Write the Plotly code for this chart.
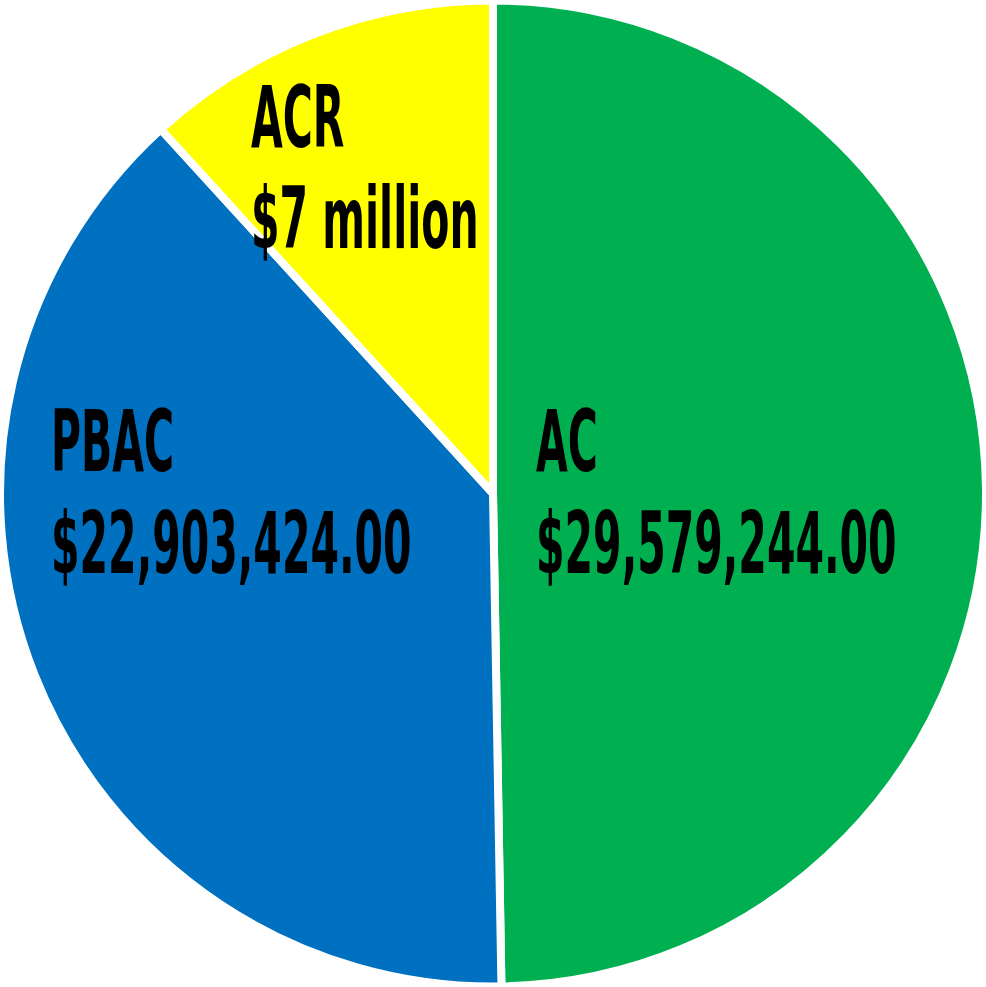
import plotly.graph_objects as go

labels = ["AC", "PBAC", "ACR"]
values = [29579244.00, 22903424.00, 7000000.00]
value_texts = ["$29,579,244.00", "$22,903,424.00", "$7 million"]
colors = ["#00B050", "#0070C0", "#FFFF00"]

fig = go.Figure(go.Pie(
    labels=labels,
    values=values,
    sort=False,
    direction="clockwise",
    rotation=0,
    marker=dict(colors=colors, line=dict(color="white", width=8)),
    textinfo="none",
    hoverinfo="label+value",
    showlegend=False,
))

FONT = dict(family="DejaVu Sans Condensed, DejaVu Sans, sans-serif",
            size=86, color="black", weight="bold")

# label anchors in pixels: (left x, centre y of line 1, centre y of line 2)
pos = {
    "AC": (534, 441, 543),
    "PBAC": (49, 441, 543),
    "ACR": (249, 117, 218),
}
W, H = 986, 987
annotations = []
for lab, vt in zip(labels, value_texts):
    x, y1, y2 = pos[lab]
    for txt, yy in ((lab, y1), (vt, y2)):
        annotations.append(dict(
            text=txt, x=x / W, y=1 - yy / H, xref="paper", yref="paper",
            xanchor="left", yanchor="middle", showarrow=False, font=FONT,
        ))

fig.update_layout(
    width=W, height=H,
    margin=dict(l=0, r=0, t=0, b=0),
    paper_bgcolor="white",
    plot_bgcolor="white",
    annotations=annotations,
)

post = """
document.body.style.margin = '0';
var gd = document.getElementById('{plot_id}');
function squash() {
  gd.querySelectorAll('text.annotation-text').forEach(function (t) {
    t.style.transformBox = 'fill-box';
    t.style.transformOrigin = 'left center';
    t.style.transform = 'scaleX(0.53)';
  });
}
squash();
gd.on('plotly_afterplot', squash);
"""

fig.write_html("out.html", post_script=post, config={"displayModeBar": False})
